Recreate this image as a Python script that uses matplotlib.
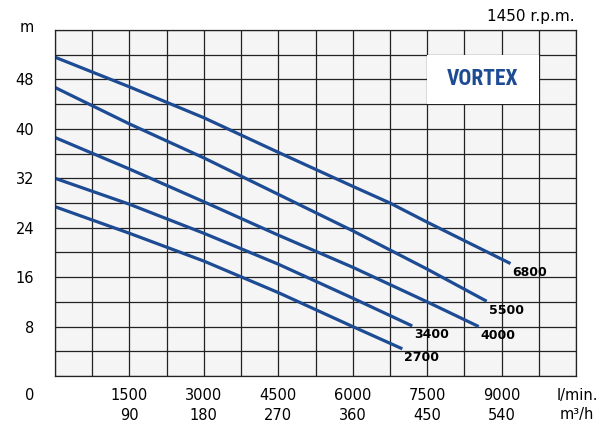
import numpy as np
import matplotlib
matplotlib.use('Agg')
import matplotlib.pyplot as plt
from matplotlib.patches import Rectangle

# flow in l/min, head in m
q_6800 = [0, 1500, 3000, 4500, 6000, 6750, 7500, 9180]
h_6800 = [51.6, 46.8, 41.8, 36.2, 30.7, 28.0, 24.9, 18.2]
q_5500 = [0, 1500, 3000, 4500, 6000, 7500, 8700]
h_5500 = [46.7, 40.8, 35.3, 29.4, 23.5, 17.3, 12.1]
q_4000 = [0, 1500, 3000, 4500, 6000, 7500, 8540]
h_4000 = [38.6, 33.5, 28.2, 22.8, 17.6, 12.0, 8.0]
q_3400 = [0, 1500, 3000, 4500, 6000, 7200]
h_3400 = [32.0, 27.8, 23.1, 18.1, 12.6, 8.1]
q_2700 = [0, 1500, 3000, 4500, 6000, 7000]
h_2700 = [27.4, 23.1, 18.6, 13.5, 8.0, 4.4]

curves = [('6800', q_6800, h_6800), ('5500', q_5500, h_5500), ('4000', q_4000, h_4000),
          ('3400', q_3400, h_3400), ('2700', q_2700, h_2700)]

x_ticks = [1500, 3000, 4500, 6000, 7500, 9000]
x_m3h = [90, 180, 270, 360, 450, 540]
y_ticks = [8, 16, 24, 32, 40, 48]

blue = '#1d4b94'
gridc = '#222222'

fig = plt.figure(figsize=(6.06, 4.26), dpi=100)
ax = fig.add_axes([55/606, 1-376/426, (576-55)/606, (376-30)/426])
ax.set_facecolor('#f5f5f5')
ax.set_xlim(0, 10500)
ax.set_ylim(0, 56)

# grid every 750 l/min and 4 m, labels only on some lines
xg = np.arange(0, 10501, 750)
yg = np.arange(0, 57, 4)
xlab = dict(zip(x_ticks, x_m3h))
ax.set_xticks(xg)
ax.set_xticklabels(['%d\n%d' % (v, xlab[v]) if v in xlab else '' for v in xg],
                   fontsize=10.5, linespacing=1.35)
ax.set_yticks(yg)
ax.set_yticklabels([str(v) if v in y_ticks else '' for v in yg], fontsize=10.5)
ax.grid(color=gridc, lw=0.9, zorder=0.5)
ax.set_axisbelow(True)
for s in ax.spines.values():
    s.set_color(gridc)
    s.set_linewidth(0.9)
ax.tick_params(length=0)
ax.tick_params(axis='x', pad=9)
ax.tick_params(axis='y', pad=15)

# white box for the model name
ax.add_patch(Rectangle((7500, 44), 2250, 8, facecolor='white', edgecolor='none', zorder=1))
ax.text(8625, 48, 'VORTEX', color=blue, fontsize=15.5, fontweight='bold',
        family=['Roboto Condensed', 'Liberation Sans Narrow', 'Roboto'],
        ha='center', va='center', zorder=3)

for name, q, h in curves:
    ax.plot(q, h, color=blue, lw=2.3, solid_capstyle='butt', zorder=2)
    ax.annotate(name, (q[-1], h[-1]), xytext=(2, -9), textcoords='offset pixels',
                fontsize=9, fontweight='bold', ha='left', va='center', zorder=3)

fig.text(575/606, 1-17/426, '1450 r.p.m.', fontsize=11, ha='right', va='center')
fig.text(34/606, 1-28/426, 'm', fontsize=10.5, ha='right', va='center')
fig.text(34/606, 1-395/426, '0', fontsize=10.5, ha='right', va='center')
fig.text(577/606, 1-405/426, 'l/min.\nm³/h', fontsize=10.5, ha='center', va='center',
         linespacing=1.35)

fig.savefig('out.png', dpi=100)
